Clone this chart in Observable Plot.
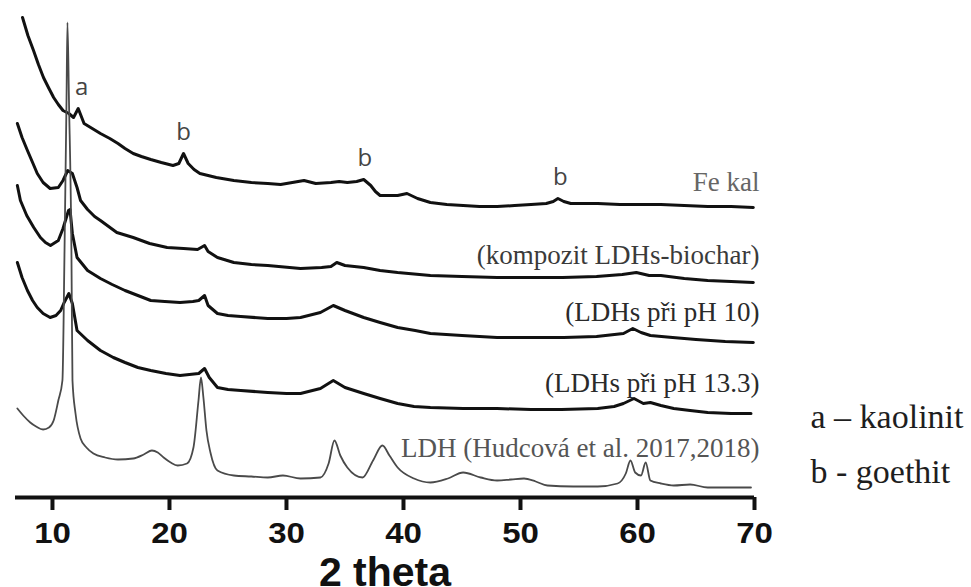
<!DOCTYPE html>
<html>
<head>
<meta charset="utf-8">
<script src="https://cdn.jsdelivr.net/npm/d3@7"></script>
<script src="https://cdn.jsdelivr.net/npm/@observablehq/plot@0.6"></script>
<style>
  html, body { margin: 0; padding: 0; background: #fff; }
  #chart svg { display: block; }
</style>
</head>
<body>
<div id="chart"></div>
<script>
// XRD patterns (intensity in arbitrary units, stacked), 2θ in degrees

const feKalTheta = [7.44, 7.9, 8.38, 8.8, 9.23, 9.7, 10.1, 10.5, 10.9, 11.4, 11.8, 12.2, 12.7, 13.4, 14.1, 14.9, 15.6, 16.2, 16.9, 17.6, 18.4, 19.3, 20.3, 20.8, 21.2, 21.6, 22.1, 22.6, 24.0, 25.5, 27.0, 28.4, 29.5, 30.5, 31.5, 32.5, 33.8, 34.5, 35.2, 36.0, 36.6, 37.2, 37.6, 38.0, 38.8, 39.5, 40.3, 41.2, 42.3, 43.7, 45.1, 46.5, 48.0, 49.5, 50.9, 52.2, 52.8, 53.2, 53.7, 54.3, 55.5, 56.6, 58.5, 60.3, 62.0, 64.0, 66.0, 68.0, 69.9];
const feKalIntensity = [480, 462, 447, 433, 420, 409, 400, 393, 387, 384, 380, 389, 374, 369, 364, 359, 354, 349, 344, 341, 338, 335, 332, 334, 344, 334, 328, 324, 320, 317, 315, 314, 313, 315, 317, 314, 315, 316, 315, 316, 318, 312, 306, 302, 302, 302, 304, 299, 295, 293, 292, 291, 291, 292, 293, 294, 296, 299, 296, 294, 294, 294, 293, 293, 293, 292, 291, 291, 290];

const kompozitTheta = [7.0, 7.4, 7.86, 8.3, 8.7, 9.2, 9.8, 10.5, 10.9, 11.3, 11.7, 12.1, 12.4, 13.0, 13.6, 14.1, 15.5, 16.9, 18.3, 19.8, 21.2, 22.4, 23.0, 23.3, 24.1, 25.5, 27.0, 28.4, 31.2, 33.0, 33.8, 34.3, 35.0, 36.6, 38.0, 39.5, 42.3, 45.0, 48.0, 51.0, 53.6, 56.5, 58.7, 59.9, 61.0, 62.0, 64.0, 66.0, 68.0, 69.9];
const kompozitIntensity = [374, 360, 347, 335, 324, 315, 309, 310, 317, 327, 324, 310, 297, 288, 281, 277, 265, 260, 254, 250, 249, 248, 252, 246, 240, 235, 233, 232, 229, 230, 231, 235, 232, 230, 227, 225, 222, 221, 220, 220, 220, 221, 223, 225, 222, 222, 219, 217, 216, 215];

const ph10Theta = [7.0, 7.26, 7.8, 8.4, 8.97, 9.4, 9.83, 10.5, 10.9, 11.37, 11.5, 11.7, 12.1, 13.0, 14.1, 15.1, 16.2, 17.3, 18.4, 19.6, 20.9, 22.0, 22.5, 23.0, 23.3, 24.1, 25.0, 26.1, 28.4, 30.0, 31.2, 32.9, 34.0, 35.0, 36.6, 38.0, 39.5, 41.0, 42.3, 45.0, 48.0, 51.0, 53.7, 56.5, 58.8, 59.6, 60.3, 61.1, 63.0, 65.0, 67.5, 69.9];
const ph10Intensity = [312, 297, 282, 270, 260, 255, 252, 257, 269, 287, 288, 264, 240, 227, 219, 213, 207, 202, 197, 196, 195, 196, 197, 202, 192, 184, 182, 181, 179, 179, 180, 185, 192, 187, 180, 175, 170, 167, 164, 162, 160, 160, 160, 161, 164, 169, 165, 162, 160, 158, 156, 155];

const ph133Theta = [7.0, 7.4, 7.86, 8.3, 8.7, 9.2, 9.8, 10.3, 10.7, 11.0, 11.4, 11.7, 12.1, 13.0, 14.1, 15.2, 16.2, 17.3, 18.4, 19.7, 20.9, 22.5, 23.0, 23.4, 24.1, 25.0, 26.1, 28.4, 30.0, 31.2, 32.9, 34.0, 35.0, 36.6, 38.0, 39.5, 40.9, 42.3, 45.1, 48.0, 50.9, 53.5, 56.6, 58.0, 58.8, 59.7, 60.5, 61.1, 62.0, 63.1, 64.5, 66.0, 68.0, 69.7];
const ph133Intensity = [235, 220, 207, 197, 190, 184, 180, 182, 187, 195, 204, 194, 167, 157, 147, 140, 135, 130, 127, 124, 122, 124, 129, 120, 110, 108, 107, 105, 104, 104, 109, 117, 110, 104, 99, 94, 91, 90, 89, 89, 88, 88, 89, 91, 94, 99, 94, 95, 92, 89, 87, 85, 84, 84];

const ldhTheta = [7.0, 7.5, 8.1, 8.6, 9.2, 9.7, 10.1, 10.5, 10.85, 11.03, 11.2, 11.28, 11.41, 11.62, 11.71, 11.97, 12.4, 12.9, 13.5, 14.5, 15.6, 16.9, 17.8, 18.5, 19.0, 19.5, 20.1, 20.7, 21.5, 22.05, 22.48, 22.69, 22.9, 23.16, 23.5, 24.1, 25.5, 27.0, 28.4, 29.7, 31.2, 32.9, 33.6, 34.1, 34.6, 35.2, 36.5, 37.4, 38.2, 38.8, 39.5, 40.9, 42.3, 43.8, 45.1, 46.6, 48.0, 49.2, 50.3, 51.3, 52.3, 54.5, 56.6, 58.3, 59.0, 59.4, 59.8, 60.3, 60.7, 61.1, 62.0, 63.1, 64.5, 66.0, 68.0, 69.7];
const ldhIntensity = [89, 82, 75, 71, 68, 70, 77, 97, 117, 247, 397, 475, 397, 247, 117, 84, 59, 50, 44, 40, 38, 39, 43, 47, 45, 40, 35, 32, 34, 50, 97, 120, 100, 67, 45, 27, 22, 21, 20, 22, 19, 20, 34, 57, 42, 30, 20, 37, 52, 42, 30, 19, 15, 19, 25, 20, 17, 18, 19, 16, 12, 11, 11, 14, 24, 37, 25, 22, 35, 17, 14, 12, 13, 10, 10, 10];

const seriesLabels = ["Fe kal", "(kompozit LDHs-biochar)", "(LDHs při pH 10)", "(LDHs při pH 13.3)", "LDH (Hudcová et al. 2017,2018)"];

// phase markers on the Fe kal pattern
const peakTheta = [12.5, 21.2, 36.7, 53.4];
const peakLetter = ["a", "b", "b", "b"];

const legendEntries = ["a – kaolinit", "b - goethit"];
const xTicks = [10, 20, 30, 40, 50, 60, 70];
const xTitle = "2 theta";

const series = [
  {label: seriesLabels[0], theta: feKalTheta, value: feKalIntensity, stroke: "#111", width: 3, curve: "linear", textFill: "#666", dy: -25},
  {label: seriesLabels[1], theta: kompozitTheta, value: kompozitIntensity, stroke: "#111", width: 3, curve: "linear", textFill: "#3a3a3a", dy: -27},
  {label: seriesLabels[2], theta: ph10Theta, value: ph10Intensity, stroke: "#111", width: 3, curve: "linear", textFill: "#2a2a2a", dy: -30},
  {label: seriesLabels[3], theta: ph133Theta, value: ph133Intensity, stroke: "#111", width: 3, curve: "linear", textFill: "#2a2a2a", dy: -30},
  {label: seriesLabels[4], theta: ldhTheta, value: ldhIntensity, stroke: "#4a4a4a", width: 1.8, curve: "monotone-x", textFill: "#555", dy: -39}
];

const rowsOf = s => s.theta.map((t, i) => ({theta: t, value: s.value[i]}));
const lastOf = s => ({theta: 70, value: s.value[s.value.length - 1], label: s.label});

// letter height: highest Fe kal point near each marked reflection
const feRows = rowsOf(series[0]);
const peakRows = peakTheta.map((t, i) => ({
  theta: t,
  letter: peakLetter[i],
  value: d3.max(feRows.filter(r => Math.abs(r.theta - t) <= 0.6), r => r.value)
}));

const marks = [];
for (const s of series) {
  marks.push(Plot.line(rowsOf(s), {x: "theta", y: "value", stroke: s.stroke, strokeWidth: s.width, curve: s.curve, strokeLinejoin: "round"}));
}
for (const s of series) {
  marks.push(Plot.text([lastOf(s)], {
    x: "theta", y: "value", text: "label", textAnchor: "end", dx: 5, dy: s.dy,
    fill: s.textFill, fontSize: 27, fontFamily: "Liberation Serif, Times New Roman, serif"
  }));
}
marks.push(Plot.text(peakRows, {
  x: "theta", y: "value", text: "letter", dy: -21,
  fill: "#444", fontSize: 24, fontFamily: "Open Sans, Noto Sans, sans-serif"
}));
legendEntries.forEach((entry, i) => {
  marks.push(Plot.text([entry], {
    frameAnchor: "bottom-right", textAnchor: "start", lineAnchor: "bottom",
    dx: 56, dy: -70 + i * 55,
    fill: "#1e1e1e", fontSize: 34, fontFamily: "Liberation Serif, Times New Roman, serif"
  }));
});
marks.push(Plot.ruleY([0], {stroke: "#111", strokeWidth: 4}));
marks.push(Plot.axisX(xTicks, {
  tickSize: 13, tickPadding: 11, strokeWidth: 4, stroke: "#111",
  fill: "#111", fontSize: 30, fontWeight: "bold",
  fontFamily: "Liberation Sans, Arial, sans-serif", label: null
}));
marks.push(Plot.text([xTitle], {
  frameAnchor: "bottom", lineAnchor: "bottom", dy: 88,
  fill: "#111", fontSize: 41, fontWeight: "bold", ariaLabel: "x title",
  fontFamily: "Liberation Sans, Arial, sans-serif"
}));

const chart = Plot.plot({
  width: 971,
  height: 587,
  marginLeft: 15,
  marginRight: 217,
  marginTop: 7,
  marginBottom: 90,
  x: {domain: [6.84, 70], axis: null},
  y: {domain: [0, 490], axis: null},
  style: {background: "#fff", overflow: "visible", fontFamily: "Liberation Sans, Arial, sans-serif"},
  marks
});

// the bold axis lettering is set slightly wide
function widen(text, k) {
  const tr = text.getAttribute("transform");
  if (tr) {
    text.setAttribute("transform", `${tr} scale(${k},1)`);
  } else {
    const x = +text.getAttribute("x") || 0, y = +text.getAttribute("y") || 0;
    text.removeAttribute("x");
    text.removeAttribute("y");
    text.setAttribute("transform", `translate(${x},${y}) scale(${k},1)`);
  }
}
chart.querySelectorAll('[aria-label="x-axis tick label"] text, [aria-label="x title"] text')
  .forEach(t => widen(t, 1.1));

document.getElementById("chart").appendChild(chart);
</script>
</body>
</html>
